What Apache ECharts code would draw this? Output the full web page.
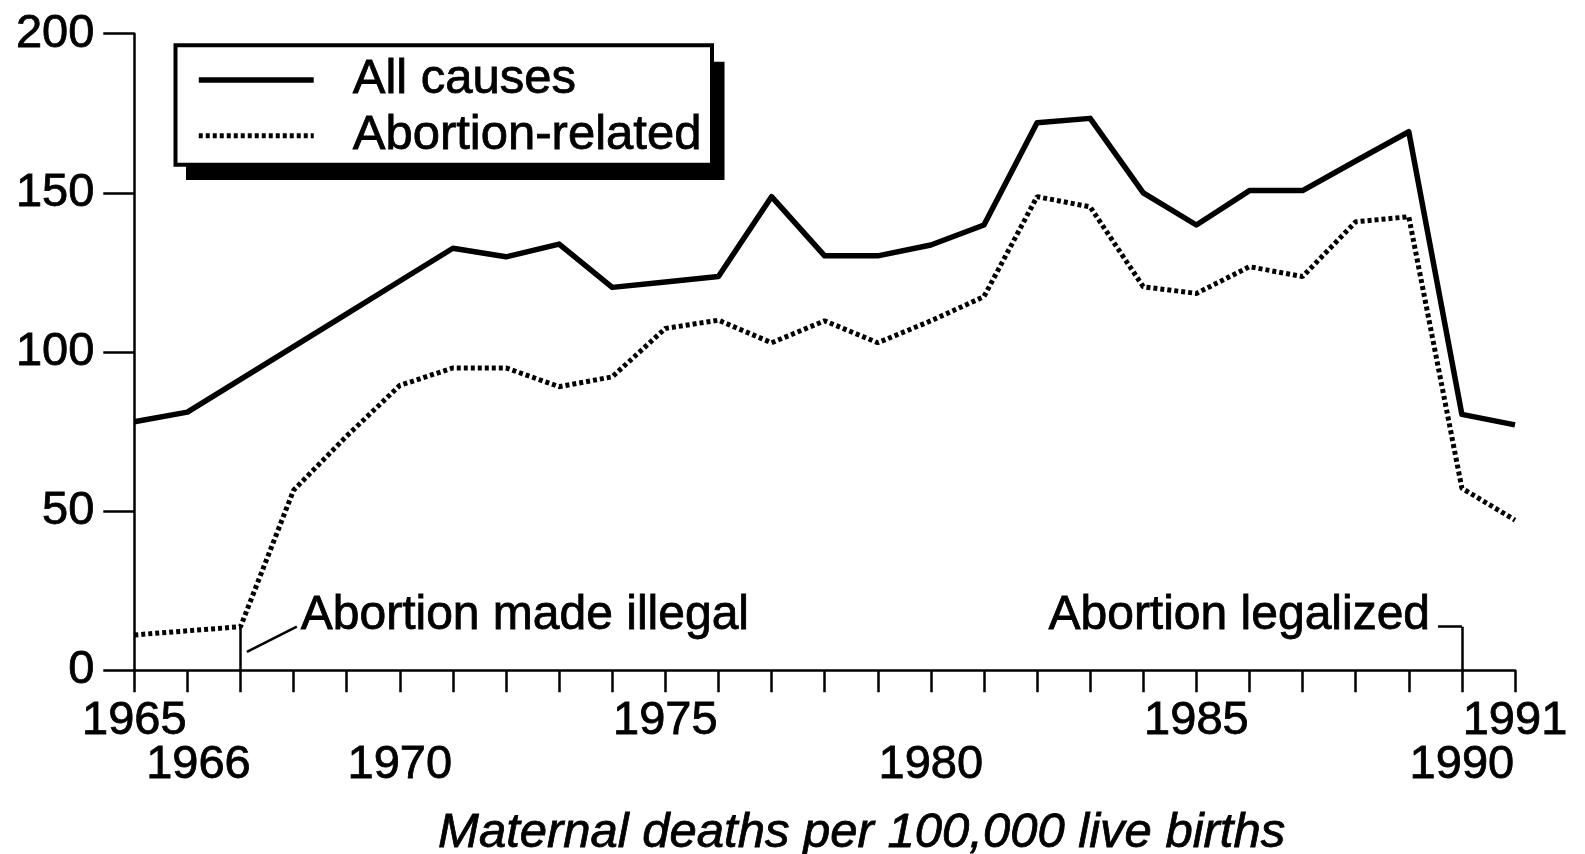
<!DOCTYPE html>
<html>
<head>
<meta charset="utf-8">
<script src="https://cdn.jsdelivr.net/npm/echarts@6/dist/echarts.min.js"></script>
<style>
html,body{margin:0;padding:0;background:#fff;}
#chart{width:1585px;height:854px;}
</style>
</head>
<body>
<div id="chart"></div>
<script>
// ---- data ----
var years = [1965,1966,1967,1968,1969,1970,1971,1972,1973,1974,1975,1976,1977,1978,1979,1980,1981,1982,1983,1984,1985,1986,1987,1988,1989,1990,1991];
var allCauses = [78.1,81.1,91.4,101.7,112.0,122.3,132.6,129.9,133.9,120.3,122.0,123.7,148.8,130.2,130.2,133.6,139.9,172.0,173.4,150.0,139.9,150.7,150.7,160.0,169.2,80.4,77.1];
var abortionRelated = [11.1,12.4,13.7,56.6,73.6,89.5,95.0,95.0,89.1,92.2,107.4,110.0,102.9,109.8,102.9,109.8,117.4,148.8,145.6,120.5,118.4,126.8,123.7,140.9,142.5,57.2,47.2];
var seriesNames = ['All causes', 'Abortion-related'];
var xLabelsRow1 = [1965, 1975, 1985, 1991];
var xLabelsRow2 = [1966, 1970, 1980, 1990];
var yTicks = [0, 50, 100, 150, 200];
var axisTitle = 'Maternal deaths per 100,000 live births';
var illegalYear = 1967, legalYear = 1990;
var notes = ['Abortion made illegal', 'Abortion legalized'];

var FONT = '"Liberation Sans", Arial, Helvetica, sans-serif';
var FS = 47;
var TB = { textBorderColor: '#000', textBorderWidth: 0.8 };
var chart = echarts.init(document.getElementById('chart'));

function pairs(vals){ return years.map(function(y,i){ return [y, vals[i]]; }); }
function ext(a, b){ for (var k in b) a[k] = b[k]; return a; }
var illegalIdx = years.indexOf(illegalYear);
var illegalLevel = abortionRelated[illegalIdx];

var xBase = {
  type: 'value', min: 1965, max: 1991, interval: 1,
  splitLine: { show: false }
};

var option = {
  backgroundColor: '#fff',
  animation: false,
  grid: { left: 134.3, right: 70, top: 33.7, bottom: 183.7, containLabel: false, outerBoundsMode: 'none' },
  graphic: [
    { type: 'rect', z: 1, silent: true, shape: { x: 186, y: 61.7, width: 538.5, height: 118.3 }, style: { fill: '#000' } },
    { type: 'rect', z: 2, silent: true, shape: { x: 175.5, y: 45.3, width: 536.5, height: 119.4 }, style: { fill: '#fff', stroke: '#000', lineWidth: 4 } }
  ],
  legend: {
    data: seriesNames,
    orient: 'vertical',
    left: 196, top: 55, z: 10,
    padding: 0,
    itemWidth: 115, itemHeight: 20, itemGap: 6,
    itemStyle: { opacity: 0 },
    lineStyle: { width: 'inherit' },
    textStyle: ext({ fontFamily: FONT, fontSize: 49, color: '#000', lineHeight: 48, padding: [0,0,0,34] }, TB)
  },
  xAxis: [
    ext({
      axisLine: { lineStyle: { color: '#000', width: 2.5 } },
      axisTick: { length: 22, lineStyle: { color: '#000', width: 2.5 } },
      axisLabel: ext({
        margin: 27, color: '#000', fontFamily: FONT, fontSize: FS,
        showMinLabel: true, showMaxLabel: true,
        formatter: function(v){ return xLabelsRow1.indexOf(v) >= 0 ? String(v) : ''; }
      }, TB),
      name: axisTitle, nameLocation: 'middle', nameGap: 140,
      nameTextStyle: ext({ fontFamily: FONT, fontSize: 49, fontStyle: 'italic', color: '#000', lineHeight: 47, padding: [0,0,0,74] }, TB)
    }, xBase),
    ext({
      position: 'bottom',
      axisLine: { show: false },
      axisTick: { show: false },
      axisLabel: ext({
        margin: 71, color: '#000', fontFamily: FONT, fontSize: FS,
        showMinLabel: false, showMaxLabel: false,
        formatter: function(v){
          if (xLabelsRow2.indexOf(v) < 0) return '';
          return v === 1966 ? '{s|' + v + '}' : String(v);
        },
        rich: { s: ext({ fontFamily: FONT, fontSize: FS, color: '#000', padding: [0,0,0,22] }, TB) }
      }, TB)
    }, xBase)
  ],
  yAxis: {
    type: 'value', min: yTicks[0], max: yTicks[yTicks.length-1], interval: 50,
    splitLine: { show: false },
    axisLine: { show: true, lineStyle: { color: '#000', width: 2.5 } },
    axisTick: { show: true, length: 31, lineStyle: { color: '#000', width: 2.5 } },
    axisLabel: ext({ margin: 40, color: '#000', fontFamily: FONT, fontSize: FS }, TB)
  },
  series: [
    {
      name: seriesNames[0], type: 'line', data: pairs(allCauses), xAxisIndex: 0,
      symbol: 'none', smooth: false,
      lineStyle: { color: '#000', width: 5.5, type: 'solid', join: 'round' },
      itemStyle: { color: '#000' },
      markLine: {
        silent: true, symbol: ['none','none'], animation: false,
        label: { show: false },
        lineStyle: { color: '#000', width: 2.5, type: 'solid' },
        data: [
          [{ coord: [1989.55, 13.7] }, { coord: [legalYear, 13.7] }],
          [{ coord: [legalYear, 13.7] }, { coord: [legalYear, 0] }]
        ]
      },
      markPoint: {
        silent: true, symbol: 'circle', symbolSize: 1,
        itemStyle: { color: 'rgba(0,0,0,0)' },
        data: [{
          coord: [1989.41, 17.2],
          label: ext({ show: true, position: 'left', distance: 0, formatter: notes[1],
                   fontFamily: FONT, fontSize: 48, color: '#000' }, TB)
        }]
      }
    },
    {
      name: seriesNames[1], type: 'line', data: pairs(abortionRelated), xAxisIndex: 0,
      symbol: 'none', smooth: false,
      lineStyle: { color: '#000', width: 5, type: [4, 3], cap: 'butt' },
      itemStyle: { color: '#000' },
      markLine: {
        silent: true, symbol: ['none','none'], animation: false,
        label: { show: false },
        lineStyle: { color: '#000', width: 2.5, type: 'solid' },
        data: [
          [{ coord: [illegalYear, 0] }, { coord: [illegalYear, illegalLevel] }],
          [{ coord: [1967.12, 5.8] }, { coord: [1968.06, 13.7] }]
        ]
      },
      markPoint: {
        silent: true, symbol: 'circle', symbolSize: 1,
        itemStyle: { color: 'rgba(0,0,0,0)' },
        data: [{
          coord: [1968.125, 17.0],
          label: ext({ show: true, position: 'right', distance: 0, formatter: notes[0],
                   fontFamily: FONT, fontSize: 48, color: '#000' }, TB)
        }]
      }
    }
  ]
};
chart.setOption(option);
</script>
</body>
</html>
